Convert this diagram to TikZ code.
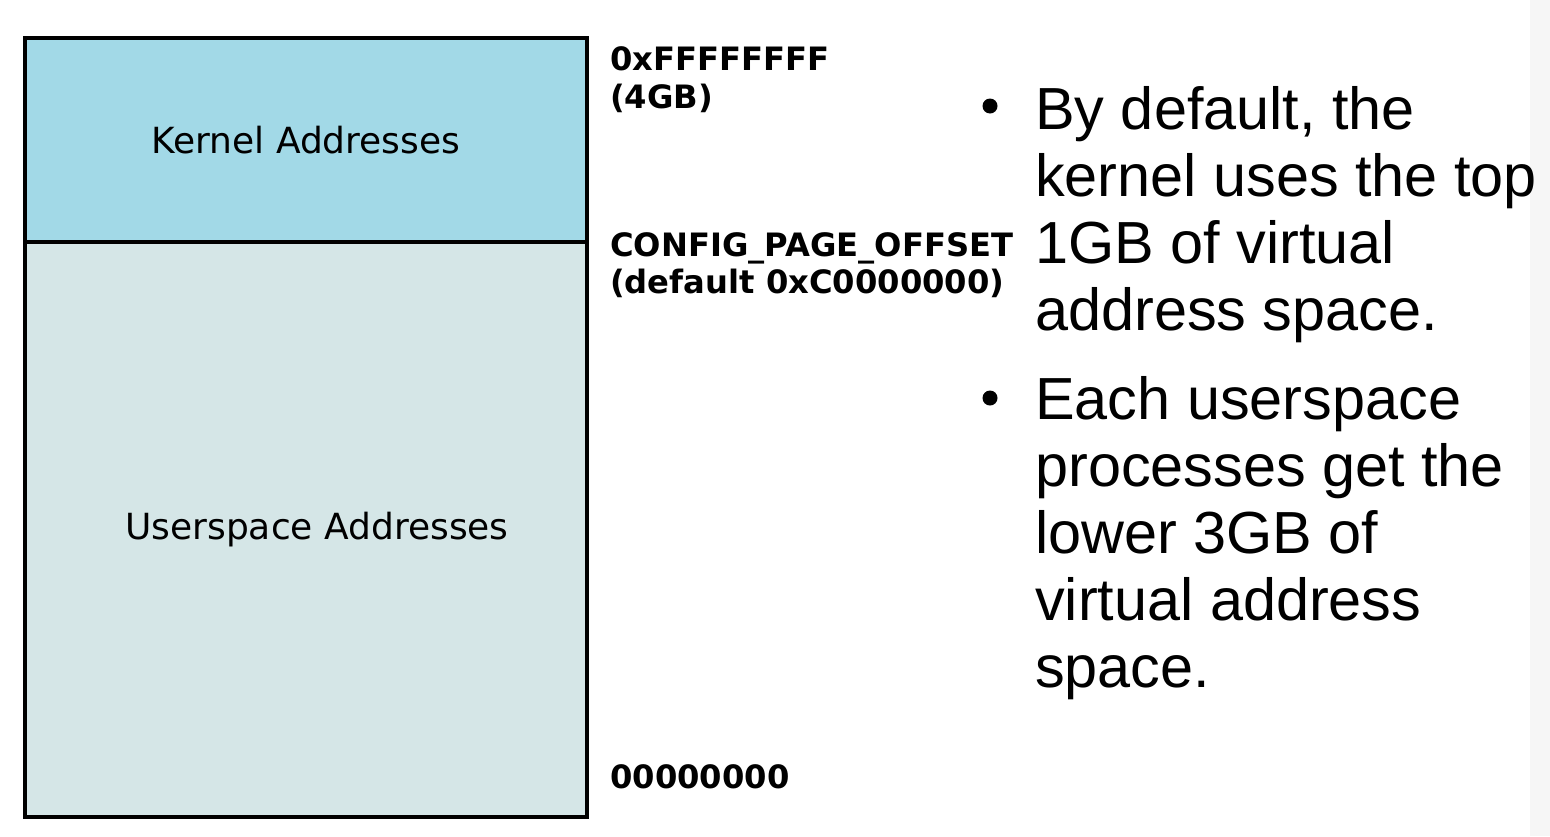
\documentclass[tikz,border=0pt]{standalone}
\usepackage{fontspec}
\setmainfont{Liberation Sans}
\newfontfamily\dejavu{DejaVu Sans}
\definecolor{kernelfill}{HTML}{A2D9E7}
\definecolor{userfill}{HTML}{D5E6E7}
\definecolor{edgestrip}{HTML}{F6F6F6}
\begin{document}
\begin{tikzpicture}[x=1pt,y=-1pt,
  region/.style={draw=black,line width=4.5pt},
  divider/.style={draw=black,line width=3.2pt},
  regionlabel/.style={font=\dejavu\fontsize{36}{42}\selectfont,inner sep=0pt},
  addrlabel/.style={font=\dejavu\bfseries\fontsize{32.2}{38}\selectfont,anchor=base west,inner sep=0pt},
  bullettext/.style={font=\fontsize{59.4}{67}\selectfont,anchor=base west,inner sep=0pt},
  bulletmark/.style={fill=black,circle,inner sep=0pt,minimum size=15pt}]
\useasboundingbox (0,0) rectangle (1550,836);
\fill[white] (0,0) rectangle (1550,836);
\fill[edgestrip] (1530,0) rectangle (1550,836);
% memory regions
\fill[userfill] (25,242) rectangle (587,817);
\fill[kernelfill] (25,38) rectangle (587,242);
\draw[divider] (25,242) -- (587,242);
\draw[region] (25,38) rectangle (587,817);
\node[regionlabel] (kern) at (306,140) {Kernel Addresses};
\node[regionlabel] (user) at (317,530) {Userspace Addresses};
% address labels
\node[addrlabel] (top1) at (610,70) {0xFFFFFFFF};
\node[addrlabel] (top2) at (610,108) {(4GB)};
\node[addrlabel] (mid1) at (610,256) {CONFIG\_PAGE\_OFFSET};
\node[addrlabel] (mid2) at (610,293) {(default 0xC0000000)};
\node[addrlabel] (bot) at (610,788) {00000000};
% bullets
\node[bulletmark] (b1) at (990,106) {};
\node[bullettext] (l1) at (1035,129) {By default, the};
\node[bullettext] (l2) at (1035,196) {kernel uses the top};
\node[bullettext] (l3) at (1035,263) {1GB of virtual};
\node[bullettext] (l4) at (1035,330) {address space.};
\node[bulletmark] (b2) at (990,398) {};
\node[bullettext] (l5) at (1035,419) {Each userspace};
\node[bullettext] (l6) at (1035,486) {processes get the};
\node[bullettext] (l7) at (1035,553) {lower 3GB of};
\node[bullettext] (l8) at (1035,620) {virtual address};
\node[bullettext] (l9) at (1035,687) {space.};
\end{tikzpicture}
\end{document}
